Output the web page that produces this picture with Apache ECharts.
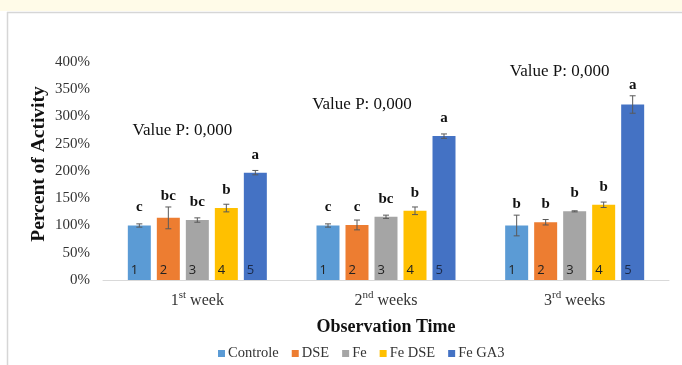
<!DOCTYPE html>
<html>
<head>
<meta charset="utf-8">
<script src="https://cdn.jsdelivr.net/npm/echarts@6/dist/echarts.min.js"></script>
<style>
  html, body { margin: 0; padding: 0; background: #ffffff; }
  #chart { width: 682px; height: 365px; }
</style>
</head>
<body>
<div id="chart"></div>
<script>
// Observation periods (number + ordinal suffix + word)
const weekNums = ['1', '2', '3'];
const weekSuffix = ['st', 'nd', 'rd'];
const weekWords = ['week', 'weeks', 'weeks'];

// Treatments
const seriesNames = ['Controle', 'DSE', 'Fe', 'Fe DSE', 'Fe GA3'];
const seriesColors = ['#5B9BD5', '#ED7D31', '#A5A5A5', '#FFC000', '#4472C4'];
const barNumbers = ['1', '2', '3', '4', '5'];

// Percent of activity (mean) per treatment, per week
const controle = [100, 100, 100];
const dse      = [114, 101, 106];
const fe       = [110, 116, 126];
const feDse    = [132, 127, 138];
const feGa3    = [197, 264, 322];
const means = [controle, dse, fe, feDse, feGa3];

// Error (±) per treatment, per week
const controleErr = [3, 3, 19];
const dseErr      = [20, 9, 5];
const feErr       = [4, 3, 1];
const feDseErr    = [7, 7, 5];
const feGa3Err    = [4, 4, 16];
const errors = [controleErr, dseErr, feErr, feDseErr, feGa3Err];

// Significance letters per treatment, per week
const controleSig = ['c', 'c', 'b'];
const dseSig      = ['bc', 'c', 'b'];
const feSig       = ['bc', 'bc', 'b'];
const feDseSig    = ['b', 'b', 'b'];
const feGa3Sig    = ['a', 'a', 'a'];
const letters = [controleSig, dseSig, feSig, feDseSig, feGa3Sig];

// P-value notes per week
const pValueText = ['Value P: 0,000', 'Value P: 0,000', 'Value P: 0,000'];

// Y axis range
const yMin = 0, yMax = 400, yStep = 50;

// Layout of the P-value notes (axis value of the text centre, x shift in px)
const pNoteLevel = [275, 322, 383];
const pNoteShift = [-15, -24, -15];

const BAR_W = 23, BAR_GAP = 6;
const SERIF = '"Liberation Serif", "Times New Roman", serif';
const SANS = '"Open Sans", "Liberation Sans", Arial, sans-serif';

const chart = echarts.init(document.getElementById('chart'), null, { renderer: 'canvas' });

const barSeries = seriesNames.map((name, i) => ({
  name: name,
  type: 'bar',
  data: means[i],
  barWidth: BAR_W,
  barGap: (BAR_GAP / BAR_W * 100).toFixed(1) + '%',
  itemStyle: { color: seriesColors[i] },
  label: {
    show: true,
    position: 'insideBottomLeft',
    distance: 3,
    formatter: () => barNumbers[i],
    fontFamily: SANS,
    fontSize: 13,
    color: i === 4 ? '#1b2a4a' : '#222'
  },
  z: 2
}));

// Error bars with significance letters on top
const errSeries = seriesNames.map((name, i) => ({
  name: name,
  type: 'custom',
  data: means[i].map((v, k) => [k, v, errors[i][k], letters[i][k]]),
  z: 5,
  silent: true,
  renderItem: (params, api) => {
    const k = api.value(0);
    const v = api.value(1);
    const e = api.value(2);
    const shift = (i - 2) * (BAR_W + BAR_GAP);
    const top = api.coord([k, v + e]);
    const bot = api.coord([k, v - e]);
    const bar = api.coord([k, v]);
    const x = top[0] + shift;
    const cap = 3;
    const style = { stroke: '#595959', lineWidth: 1 };
    const letterY = Math.min(bar[1] - 18, top[1] - 11);
    return {
      type: 'group',
      children: [
        { type: 'line', shape: { x1: x, y1: top[1], x2: x, y2: bot[1] }, style },
        { type: 'line', shape: { x1: x - cap, y1: top[1], x2: x + cap, y2: top[1] }, style },
        { type: 'line', shape: { x1: x - cap, y1: bot[1], x2: x + cap, y2: bot[1] }, style },
        {
          type: 'text',
          x: x, y: letterY,
          style: {
            text: letters[i][k],
            font: 'bold 15px ' + SERIF,
            fill: '#111',
            align: 'center',
            verticalAlign: 'middle'
          }
        }
      ]
    };
  }
}));

// P-value notes above each week group
const pSeries = {
  type: 'custom',
  silent: true,
  data: pValueText.map((t, k) => [k, pNoteLevel[k]]),
  z: 5,
  renderItem: (params, api) => {
    const k = api.value(0);
    const p = api.coord([k, api.value(1)]);
    return {
      type: 'text',
      x: p[0] + pNoteShift[k],
      y: p[1],
      style: {
        text: pValueText[k],
        font: '17px ' + SERIF,
        fill: '#111',
        align: 'center',
        verticalAlign: 'middle'
      }
    };
  }
};

const option = {
  animation: false,
  backgroundColor: '#ffffff',
  graphic: [
    { type: 'rect', left: 0, top: 0, shape: { width: 682, height: 11 }, style: { fill: '#FFFBE8' }, z: -10 },
    { type: 'line', shape: { x1: 7, y1: 12.5, x2: 682, y2: 12.5 }, style: { stroke: '#d6d6d6', lineWidth: 1.5 }, z: -10 },
    { type: 'line', shape: { x1: 7.5, y1: 12, x2: 7.5, y2: 365 }, style: { stroke: '#d6d6d6', lineWidth: 1.5 }, z: -10 }
  ],
  grid: { left: 103, right: 13, top: 62, bottom: 85 },
  legend: {
    data: seriesNames,
    left: 213,
    top: 341,
    icon: 'rect',
    itemWidth: 7,
    itemHeight: 7,
    itemGap: 13,
    textStyle: { fontFamily: SERIF, fontSize: 14.5, color: '#333', padding: [0, 0, 0, -2] }
  },
  xAxis: {
    type: 'category',
    data: weekNums,
    name: 'Observation Time',
    nameLocation: 'middle',
    nameGap: 38,
    nameTextStyle: { fontFamily: SERIF, fontSize: 18, fontWeight: 'bold', color: '#111' },
    axisLine: { lineStyle: { color: '#d9d9d9', width: 1 } },
    axisTick: { show: false },
    axisLabel: {
      margin: 10,
      formatter: (val, idx) => '{n|' + weekNums[idx] + '}{s|' + weekSuffix[idx] + '}{w| ' + weekWords[idx] + '}',
      rich: {
        n: { fontFamily: SERIF, fontSize: 16, color: '#333', lineHeight: 19, verticalAlign: 'bottom' },
        s: { fontFamily: SERIF, fontSize: 11, color: '#333', lineHeight: 19, verticalAlign: 'top', padding: [0, 0, 6, 0] },
        w: { fontFamily: SERIF, fontSize: 16, color: '#333', lineHeight: 19, verticalAlign: 'bottom' }
      }
    }
  },
  yAxis: {
    type: 'value',
    min: yMin,
    max: yMax,
    interval: yStep,
    name: 'Percent of Activity',
    nameLocation: 'middle',
    nameGap: 54,
    nameMoveOverlap: false,
    nameTextStyle: { fontFamily: SERIF, fontSize: 19.5, fontWeight: 'bold', color: '#111', padding: [0, 0, 0, 14] },
    axisLine: { show: false },
    axisTick: { show: false },
    splitLine: { show: false },
    axisLabel: {
      margin: 13,
      formatter: '{value}%',
      fontFamily: SERIF,
      fontSize: 15,
      color: '#333'
    }
  },
  series: [...barSeries, ...errSeries, pSeries]
};

chart.setOption(option);
</script>
</body>
</html>
